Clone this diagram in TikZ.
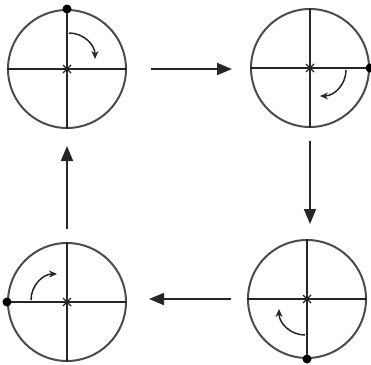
\documentclass[tikz,border=0pt]{standalone}
\usetikzlibrary{arrows.meta}
\begin{document}
\begin{tikzpicture}[x=1pt,y=1pt,
  wheel/.style={circle,draw=black!70,line width=2pt,minimum size=118pt,inner sep=0pt},
  crossline/.style={draw=black!85,line width=1.5pt},
  xmark/.style={draw=black!85,line width=1.1pt},
  dotmark/.style={circle,fill=black,inner sep=0pt,minimum size=9pt},
  bigarrow/.style={draw=black!85,line width=1.7pt,-{Triangle[length=15pt,width=12pt]}},
  turnarrow/.style={draw=black!85,line width=1.5pt,-{Stealth[length=8pt,width=7pt]}}]
\useasboundingbox (0,0) rectangle (371,-364);
% wheels
\node[wheel] (c1) at (67,-69) {};
\node[wheel] (c2) at (310,-68) {};
\node[wheel] (c3) at (307,-299) {};
\node[wheel] (c4) at (67,-302) {};
% crosses, centre marks and turning arrows
\foreach \c/\r in {c1/0,c2/-90,c3/-180,c4/-270}{
  \draw[crossline] (\c.north) -- (\c.south);
  \draw[crossline] (\c.west) -- (\c.east);
  \begin{scope}[shift={(\c.center)}]
    \draw[xmark] (-4,-4) -- (4,4) (-4,4) -- (4,-4);
    \begin{scope}[rotate=\r]
      \draw[turnarrow] (2,36) arc[start angle=90,end angle=0,radius=26];
    \end{scope}
  \end{scope}
}
% dots
\node[dotmark] (d1) at (c1.north) {};
\node[dotmark] (d2) at (c2.east) {};
\node[dotmark] (d3) at (c3.south) {};
\node[dotmark] (d4) at (c4.west) {};
% big arrows
\draw[bigarrow] ([xshift=24pt]c1.east) -- ([xshift=-18pt,yshift=-1pt]c2.west);
\draw[bigarrow] ([yshift=-13pt]c2.south) -- ([xshift=3pt,yshift=15pt]c3.north);
\draw[bigarrow] ([xshift=-16pt]c3.west) -- ([xshift=22pt,yshift=3pt]c4.east);
\draw[bigarrow] ([yshift=13pt]c4.north) -- ([yshift=-17pt]c1.south);
\end{tikzpicture}
\end{document}
